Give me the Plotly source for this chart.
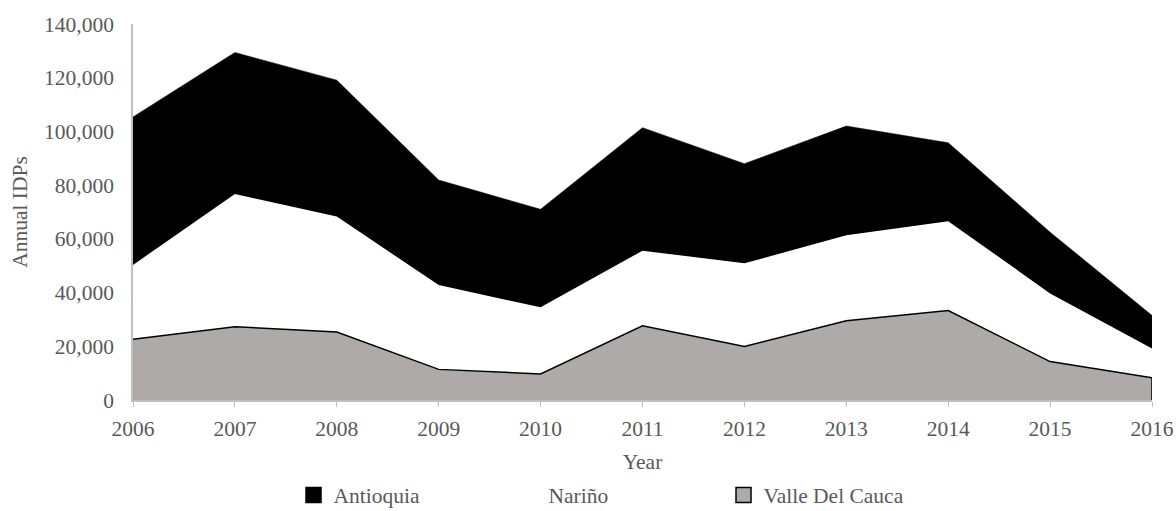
import plotly.graph_objects as go

years = [2006, 2007, 2008, 2009, 2010, 2011, 2012, 2013, 2014, 2015, 2016]
valle = [22600, 27300, 25300, 11400, 9700, 27600, 19900, 29500, 33300, 14300, 8300]
narino = [27700, 49400, 43000, 31400, 24800, 28000, 31000, 31800, 33300, 25400, 10900]
antioquia = [55100, 52700, 50800, 39100, 36500, 45800, 37100, 40700, 29200, 22800, 12300]
y_ticks = [0, 20000, 40000, 60000, 80000, 100000, 120000, 140000]

FONT = "Liberation Serif"
GREY_TXT = "#595959"
FS = 21.5

fig = go.Figure()
fig.add_trace(go.Scatter(
    x=years, y=valle, name="Valle Del Cauca", stackgroup="one",
    mode="lines", line=dict(color="black", width=1.5),
    fillcolor="#AEAAAA", showlegend=False,
))
fig.add_trace(go.Scatter(
    x=years, y=narino, name="Nariño", stackgroup="one",
    mode="lines", line=dict(color="rgba(255,255,255,0)", width=0),
    fillcolor="#FFFFFF", showlegend=False,
))
fig.add_trace(go.Scatter(
    x=years, y=antioquia, name="Antioquia", stackgroup="one",
    mode="lines", line=dict(color="black", width=0.5),
    fillcolor="#000000", showlegend=False,
))
# right-hand edge of the Valle Del Cauca area
fig.add_trace(go.Scatter(
    x=[years[-1], years[-1]], y=[valle[-1], 0], mode="lines",
    line=dict(color="black", width=1.5), showlegend=False, hoverinfo="skip",
))

# legend entries with square swatches
legend_items = [
    ("Antioquia", "#000000", "#000000"),
    ("Nariño", "#FFFFFF", "#FFFFFF"),
    ("Valle Del Cauca", "#AEAAAA", "#000000"),
]
for name, fillc, linec in legend_items:
    fig.add_trace(go.Scatter(
        x=[None], y=[None], mode="markers", name=name,
        marker=dict(symbol="square", size=15, color=fillc, line=dict(color=linec, width=1.5)),
        showlegend=True,
    ))

fig.update_layout(
    width=1176, height=511,
    margin=dict(l=133, r=24, t=24, b=111, autoexpand=False),
    paper_bgcolor="white", plot_bgcolor="white",
    font=dict(family=FONT, size=FS, color=GREY_TXT),
    showlegend=True,
    legend=dict(
        orientation="h", x=0.474, xanchor="center", y=-0.253, yanchor="middle",
        font=dict(family=FONT, size=FS, color=GREY_TXT),
        entrywidth=170, entrywidthmode="pixels", traceorder="normal",
        itemsizing="trace", bgcolor="rgba(0,0,0,0)",
    ),
)
fig.update_xaxes(
    range=[years[0], years[-1]], tickvals=years, ticktext=[str(y) for y in years],
    showgrid=False, zeroline=False, showline=True, linecolor="#BFBFBF", linewidth=1.5,
    ticks="outside", ticklen=5, tickcolor="#BFBFBF", ticklabelstandoff=3,
    tickfont=dict(family=FONT, size=FS, color=GREY_TXT), automargin=False,
    title=dict(text="Year", font=dict(family=FONT, size=FS, color=GREY_TXT), standoff=14),
)
fig.update_yaxes(
    range=[0, 140000], tickvals=y_ticks, tickformat=",",
    showgrid=False, zeroline=False, showline=True, linecolor="#BFBFBF", linewidth=1.5,
    ticks="", ticklabelstandoff=13, automargin=False,
    tickfont=dict(family=FONT, size=FS, color=GREY_TXT),
    title=dict(text="Annual IDPs", font=dict(family=FONT, size=FS, color=GREY_TXT), standoff=11),
)

fig.write_html(
    "out.html",
    config={"displayModeBar": False},
    post_script="document.body.style.margin='0';",
)
